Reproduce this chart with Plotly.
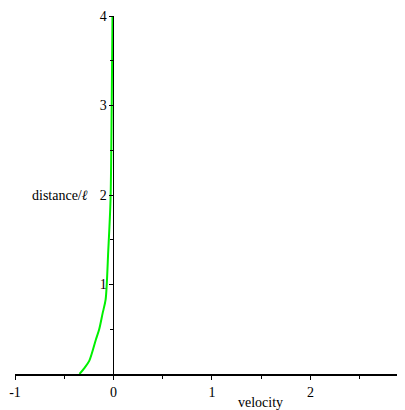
import plotly.graph_objects as go

velocity = [-0.345, -0.30, -0.245, -0.18, -0.145, -0.11, -0.08, -0.053, -0.030, -0.018, -0.010]
distance = [0.0, 0.06, 0.15, 0.38, 0.50, 0.68, 0.83, 1.38, 1.94, 3.0, 4.0]

x_ticks = [-1, 0, 1, 2]
x_labels = ["-1", "0", "1", "2"]
y_ticks = [1, 2, 3, 4]
y_labels = ["1", "2", "3", "4"]

font = "Liberation Serif, Times New Roman, serif"

# page body has an 8px margin; compensate so the plot area sits at 15..405 x 16..374
OFF = 8
L, T, B = 15 - OFF, 16 - OFF, 36
PW, PH = 390, 358
W, H = L + PW, T + PH + B

fig = go.Figure()
fig.add_trace(go.Scatter(x=velocity, y=distance, mode="lines",
                         line=dict(color="#00f000", width=2, shape="spline", smoothing=0.8),
                         showlegend=False, cliponaxis=False))

fig.update_layout(
    width=W, height=H,
    margin=dict(l=L, r=0, t=T, b=B, autoexpand=False),
    plot_bgcolor="white", paper_bgcolor="white",
    font=dict(family=font, size=14, color="black"),
    xaxis=dict(range=[-1, 2.96], showgrid=False, zeroline=False, automargin=False,
               showline=True, linecolor="black", linewidth=2,
               tickvals=x_ticks, ticktext=x_labels, ticks="outside",
               ticklen=4, tickcolor="black",
               minor=dict(dtick=0.5, ticks="outside", ticklen=3, tickcolor="black", showgrid=False)),
    yaxis=dict(range=[0, 4], showgrid=False, zeroline=False, automargin=False,
               anchor="free", position=(0 - (-1)) / 3.96,
               showline=True, linecolor="black", linewidth=1,
               tickvals=y_ticks, ticktext=y_labels, ticks="outside",
               ticklen=4, tickcolor="black",
               minor=dict(dtick=0.5, ticks="outside", ticklen=3, tickcolor="black", showgrid=False)),
    annotations=[
        dict(text="velocity", x=(260 - 15) / PW, xref="x domain",
             y=(374 - 402) / PH, yref="paper", yanchor="middle", showarrow=False),
        dict(text="distance/<i>ℓ</i>", x=(60 - 15) / PW, xref="x domain", xanchor="center",
             y=2, yref="y", showarrow=False),
        dict(text="3", x=3, y=0, xref="x", yref="y", yshift=-14,
             showarrow=False),
    ],
)

fig.write_html("out.html")
